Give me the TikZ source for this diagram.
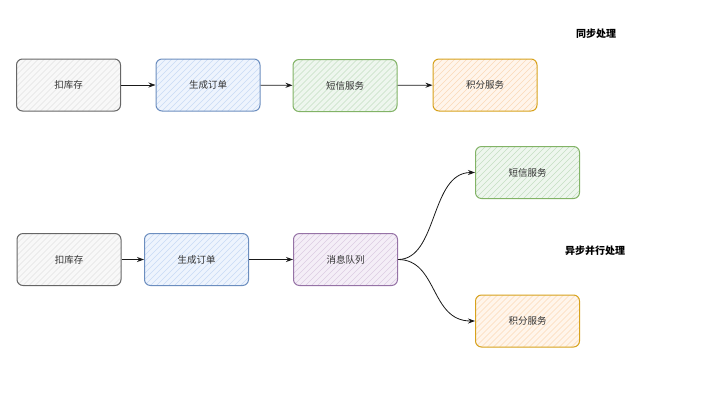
\documentclass[tikz,border=0pt]{standalone}
\usepackage{fontspec}
\setmainfont{Noto Sans CJK SC}
\usetikzlibrary{arrows.meta}
\definecolor{grayS}{HTML}{666666}\definecolor{grayF}{HTML}{F8F8F8}\definecolor{grayH}{HTML}{E2E2E2}
\definecolor{blueS}{HTML}{6C8EBF}\definecolor{blueF}{HTML}{EEF4FD}\definecolor{blueH}{HTML}{C9DBF5}
\definecolor{greenS}{HTML}{82B366}\definecolor{greenF}{HTML}{EEF6EE}\definecolor{greenH}{HTML}{C5DEC3}
\definecolor{orangeS}{HTML}{D7A21C}\definecolor{orangeF}{HTML}{FFF5EB}\definecolor{orangeH}{HTML}{FBD9B8}
\definecolor{purpleS}{HTML}{9673A6}\definecolor{purpleF}{HTML}{F4EEF7}\definecolor{purpleH}{HTML}{DCCDE3}
\tikzset{
  box/.style n args={3}{draw=#1, fill=#2, line width=1pt, rounded corners=6pt,
    minimum width=104pt, minimum height=52pt, inner sep=0pt, font=\fontsize{9.5}{11}\selectfont, text=black!80,
    path picture={\foreach \k in {-60,-54,...,120}{
      \draw[#3, line width=0.5pt] ([xshift=\k pt]path picture bounding box.south west) -- ++(60pt,60pt);}}},
  gbox/.style={box={grayS}{grayF}{grayH}},
  bbox/.style={box={blueS}{blueF}{blueH}},
  grbox/.style={box={greenS}{greenF}{greenH}},
  obox/.style={box={orangeS}{orangeF}{orangeH}},
  pbox/.style={box={purpleS}{purpleF}{purpleH}},
  arr/.style={-{Stealth[length=7pt,width=5pt]}, line width=0.8pt, draw=black!90},
  ttl/.style={font=\bfseries\fontsize{10}{12}\selectfont, text=black}
}
\begin{document}
\begin{tikzpicture}[x=1pt,y=-1pt]
\useasboundingbox (0,0) rectangle (722,400);
% top row
\node[gbox] (a1) at (68.5,85) {扣库存};
\node[bbox] (b1) at (208,85) {生成订单};
\node[grbox] (c1) at (345,85.5) {短信服务};
\node[obox] (d1) at (485,85) {积分服务};
\node[ttl] (t1) at (596,34) {同步处理};
\draw[arr] (a1) -- (b1);
\draw[arr] (b1) -- (c1);
\draw[arr] (c1) -- (d1);
% bottom row
\node[gbox] (a2) at (69,259.5) {扣库存};
\node[bbox] (b2) at (196.5,259.5) {生成订单};
\node[pbox] (c2) at (345.5,259.5) {消息队列};
\node[grbox] (d2) at (527.5,172.5) {短信服务};
\node[obox] (e2) at (527.5,321) {积分服务};
\node[ttl] (t2) at (595,251) {异步并行处理};
\draw[arr] (a2) -- (b2);
\draw[arr] (b2) -- (c2);
\draw[arr] (c2.east) .. controls +(40,0) and +(-45,0) .. (d2.west);
\draw[arr] (c2.east) .. controls +(40,0) and +(-45,0) .. (e2.west);
\end{tikzpicture}
\end{document}
